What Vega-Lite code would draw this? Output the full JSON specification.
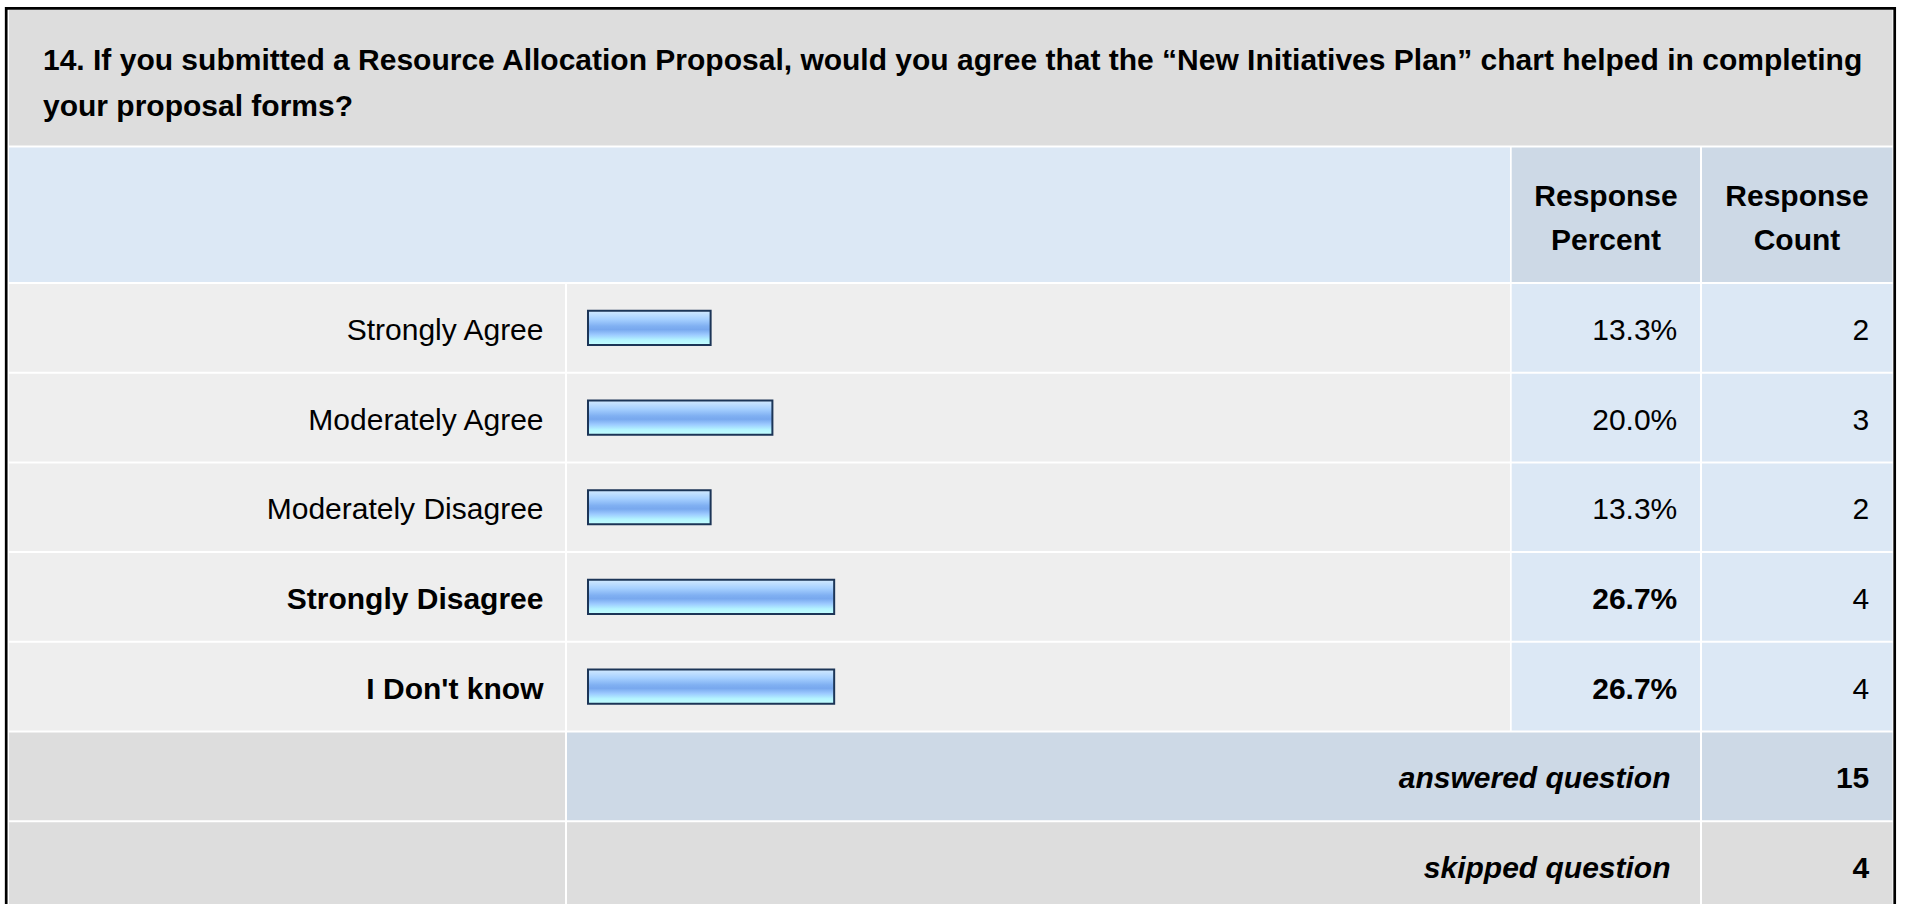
{
  "$schema": "https://vega.github.io/schema/vega-lite/v6.json",
  "width": 1907,
  "height": 904,
  "padding": 0,
  "autosize": {"type": "none"},
  "background": "#ffffff",
  "config": {"view": {"stroke": null}, "font": "Liberation Sans", "text": {"fontSize": 30, "color": "#000000"}},
  "datasets": {
    "responses": [
      {"answer": "Strongly Agree", "percent": 0.133, "count": 2, "kind": "answer"},
      {"answer": "Moderately Agree", "percent": 0.2, "count": 3, "kind": "answer"},
      {"answer": "Moderately Disagree", "percent": 0.133, "count": 2, "kind": "answer"},
      {"answer": "Strongly Disagree", "percent": 0.267, "count": 4, "kind": "answer"},
      {"answer": "I Don't know", "percent": 0.267, "count": 4, "kind": "answer"},
      {"answer": "answered question", "count": 15, "kind": "answered"},
      {"answer": "skipped question", "count": 4, "kind": "skipped"}
    ]
  },
  "layer": [
    {
      "data": {"values": [{}]},
      "layer": [
        {
          "mark": {"type": "rect", "fill": "#dddddd"},
          "encoding": {
            "x": {"datum": -0.62798, "type": "quantitative", "scale": {"domain": [-0.637744, 1.430586], "nice": false, "zero": false}, "axis": null},
            "x2": {"datum": 1.41486},
            "y": {"datum": -3.05463, "type": "quantitative", "scale": {"domain": [-3.16611, 6.91193], "nice": false, "zero": false, "reverse": true}, "axis": null},
            "y2": {"datum": -1.54292}
          }
        },
        {
          "mark": {"type": "rect", "fill": "#dce8f5"},
          "encoding": {
            "x": {"datum": -0.62798, "type": "quantitative", "scale": {"domain": [-0.637744, 1.430586], "nice": false, "zero": false}, "axis": null},
            "x2": {"datum": 1.0},
            "y": {"datum": -1.52062, "type": "quantitative", "scale": {"domain": [-3.16611, 6.91193], "nice": false, "zero": false, "reverse": true}, "axis": null},
            "y2": {"datum": -0.0223}
          }
        },
        {
          "mark": {"type": "rect", "fill": "#cdd9e6"},
          "encoding": {
            "x": {"datum": 1.001844, "type": "quantitative", "scale": {"domain": [-0.637744, 1.430586], "nice": false, "zero": false}, "axis": null},
            "x2": {"datum": 1.206074},
            "y": {"datum": -1.52062, "type": "quantitative", "scale": {"domain": [-3.16611, 6.91193], "nice": false, "zero": false, "reverse": true}, "axis": null},
            "y2": {"datum": -0.0223}
          }
        },
        {
          "mark": {"type": "rect", "fill": "#cdd9e6"},
          "encoding": {
            "x": {"datum": 1.208243, "type": "quantitative", "scale": {"domain": [-0.637744, 1.430586], "nice": false, "zero": false}, "axis": null},
            "x2": {"datum": 1.41486},
            "y": {"datum": -1.52062, "type": "quantitative", "scale": {"domain": [-3.16611, 6.91193], "nice": false, "zero": false, "reverse": true}, "axis": null},
            "y2": {"datum": -0.0223}
          }
        },
        {
          "mark": {"type": "text", "align": "left", "baseline": "alphabetic", "fontWeight": "bold", "fontSize": 30, "lineHeight": 46},
          "encoding": {
            "x": {"datum": -0.591106, "type": "quantitative", "scale": {"domain": [-0.637744, 1.430586], "nice": false, "zero": false}, "axis": null},
            "y": {"datum": -2.38573, "type": "quantitative", "scale": {"domain": [-3.16611, 6.91193], "nice": false, "zero": false, "reverse": true}, "axis": null},
            "text": {"value": ["14. If you submitted a Resource Allocation Proposal, would you agree that the \u201cNew Initiatives Plan\u201d chart helped in completing", "your proposal forms?"]}
          }
        },
        {
          "mark": {"type": "text", "align": "center", "baseline": "alphabetic", "fontWeight": "bold", "fontSize": 30, "lineHeight": 44},
          "encoding": {
            "x": {"datum": 1.104121, "type": "quantitative", "scale": {"domain": [-0.637744, 1.430586], "nice": false, "zero": false}, "axis": null},
            "y": {"datum": -0.869565, "type": "quantitative", "scale": {"domain": [-3.16611, 6.91193], "nice": false, "zero": false, "reverse": true}, "axis": null},
            "text": {"value": ["Response", "Percent"]}
          }
        },
        {
          "mark": {"type": "text", "align": "center", "baseline": "alphabetic", "fontWeight": "bold", "fontSize": 30, "lineHeight": 44},
          "encoding": {
            "x": {"datum": 1.31128, "type": "quantitative", "scale": {"domain": [-0.637744, 1.430586], "nice": false, "zero": false}, "axis": null},
            "y": {"datum": -0.869565, "type": "quantitative", "scale": {"domain": [-3.16611, 6.91193], "nice": false, "zero": false, "reverse": true}, "axis": null},
            "text": {"value": ["Response", "Count"]}
          }
        },
        {
          "mark": {"type": "rect", "fill": "#ffffff", "fillOpacity": 0, "stroke": "#000000", "strokeWidth": 2.7},
          "encoding": {
            "x": {"datum": -0.63102, "type": "quantitative", "scale": {"domain": [-0.637744, 1.430586], "nice": false, "zero": false}, "axis": null},
            "x2": {"datum": 1.41725},
            "y": {"datum": -3.07358, "type": "quantitative", "scale": {"domain": [-3.16611, 6.91193], "nice": false, "zero": false, "reverse": true}, "axis": null},
            "y2": {"datum": 7.0}
          }
        }
      ]
    },
    {
      "data": {"name": "responses"},
      "encoding": {
        "y": {"field": "answer", "type": "nominal", "sort": null, "axis": null,
              "scale": {"domain": ["Strongly Agree", "Moderately Agree", "Moderately Disagree", "Strongly Disagree", "I Don't know", "answered question", "skipped question"], "range": [284, 909.9], "paddingInner": 0.0223, "paddingOuter": 0}}
      },
      "layer": [
        {
          "mark": {"type": "rect"},
          "encoding": {
            "x": {"datum": -0.62798, "type": "quantitative", "scale": {"domain": [-0.637744, 1.430586], "nice": false, "zero": false}, "axis": null},
            "x2": {"datum": -0.024946},
            "fill": {"condition": {"test": "datum.kind === 'answer'", "value": "#eeeeee"}, "value": "#dddddd"}
          }
        },
        {
          "transform": [{"filter": "datum.kind === 'answer'"}],
          "mark": {"type": "rect", "fill": "#eeeeee"},
          "encoding": {
            "x": {"datum": -0.022777, "type": "quantitative", "scale": {"domain": [-0.637744, 1.430586], "nice": false, "zero": false}, "axis": null},
            "x2": {"datum": 1.0}
          }
        },
        {
          "transform": [{"filter": "datum.kind !== 'answer'"}],
          "mark": {"type": "rect"},
          "encoding": {
            "x": {"datum": -0.022777, "type": "quantitative", "scale": {"domain": [-0.637744, 1.430586], "nice": false, "zero": false}, "axis": null},
            "x2": {"datum": 1.206074},
            "fill": {"condition": {"test": "datum.kind === 'answered'", "value": "#cdd9e6"}, "value": "#dddddd"}
          }
        },
        {
          "transform": [{"filter": "datum.kind === 'answer'"}],
          "mark": {"type": "rect", "fill": "#dce8f5"},
          "encoding": {
            "x": {"datum": 1.001844, "type": "quantitative", "scale": {"domain": [-0.637744, 1.430586], "nice": false, "zero": false}, "axis": null},
            "x2": {"datum": 1.206074}
          }
        },
        {
          "mark": {"type": "rect"},
          "encoding": {
            "x": {"datum": 1.208243, "type": "quantitative", "scale": {"domain": [-0.637744, 1.430586], "nice": false, "zero": false}, "axis": null},
            "x2": {"datum": 1.41486},
            "fill": {"condition": [{"test": "datum.kind === 'answer'", "value": "#dce8f5"}, {"test": "datum.kind === 'answered'", "value": "#cdd9e6"}], "value": "#dddddd"}
          }
        },
        {
          "transform": [{"filter": "datum.kind === 'answer'"}],
          "mark": {"type": "bar", "height": {"band": 0.39}, "stroke": "#1c3557", "strokeWidth": 2,
                   "fill": {"gradient": "linear", "x1": 0, "y1": 0, "x2": 0, "y2": 1,
                            "stops": [{"offset": 0, "color": "#d2eaff"}, {"offset": 0.25, "color": "#a6d0ff"}, {"offset": 0.45, "color": "#80b0f2"}, {"offset": 0.55, "color": "#78a8ee"}, {"offset": 0.7, "color": "#9ccaff"}, {"offset": 0.85, "color": "#b4f4ff"}, {"offset": 1, "color": "#c4ffff"}]}},
          "encoding": {
            "x": {"field": "percent", "type": "quantitative", "scale": {"domain": [-0.637744, 1.430586], "nice": false, "zero": false}, "axis": null},
            "x2": {"datum": 0}
          }
        },
        {
          "transform": [{"filter": "datum.kind === 'answer'"}, {"joinaggregate": [{"op": "max", "field": "percent", "as": "top"}]}, {"filter": "datum.percent < datum.top"}],
          "mark": {"type": "text", "align": "right", "baseline": "middle", "dy": 3, "fontSize": 30},
          "encoding": {
            "x": {"datum": -0.048265, "type": "quantitative", "scale": {"domain": [-0.637744, 1.430586], "nice": false, "zero": false}, "axis": null},
            "text": {"field": "answer"}
          }
        },
        {
          "transform": [{"filter": "datum.kind === 'answer'"}, {"joinaggregate": [{"op": "max", "field": "percent", "as": "top"}]}, {"filter": "datum.percent >= datum.top"}],
          "mark": {"type": "text", "align": "right", "baseline": "middle", "dy": 3, "fontSize": 30, "fontWeight": "bold"},
          "encoding": {
            "x": {"datum": -0.048265, "type": "quantitative", "scale": {"domain": [-0.637744, 1.430586], "nice": false, "zero": false}, "axis": null},
            "text": {"field": "answer"}
          }
        },
        {
          "transform": [{"filter": "datum.kind === 'answer'"}, {"joinaggregate": [{"op": "max", "field": "percent", "as": "top"}]}, {"filter": "datum.percent < datum.top"}],
          "mark": {"type": "text", "align": "right", "baseline": "middle", "dy": 3, "fontSize": 30},
          "encoding": {
            "x": {"datum": 1.181453, "type": "quantitative", "scale": {"domain": [-0.637744, 1.430586], "nice": false, "zero": false}, "axis": null},
            "text": {"field": "percent", "type": "quantitative", "format": ".1%"}
          }
        },
        {
          "transform": [{"filter": "datum.kind === 'answer'"}, {"joinaggregate": [{"op": "max", "field": "percent", "as": "top"}]}, {"filter": "datum.percent >= datum.top"}],
          "mark": {"type": "text", "align": "right", "baseline": "middle", "dy": 3, "fontSize": 30, "fontWeight": "bold"},
          "encoding": {
            "x": {"datum": 1.181453, "type": "quantitative", "scale": {"domain": [-0.637744, 1.430586], "nice": false, "zero": false}, "axis": null},
            "text": {"field": "percent", "type": "quantitative", "format": ".1%"}
          }
        },
        {
          "transform": [{"filter": "datum.kind === 'answer'"}],
          "mark": {"type": "text", "align": "right", "baseline": "middle", "dy": 3, "fontSize": 30},
          "encoding": {
            "x": {"datum": 1.389696, "type": "quantitative", "scale": {"domain": [-0.637744, 1.430586], "nice": false, "zero": false}, "axis": null},
            "text": {"field": "count", "type": "quantitative"}
          }
        },
        {
          "transform": [{"filter": "datum.kind !== 'answer'"}],
          "mark": {"type": "text", "align": "right", "baseline": "middle", "dy": 3, "fontSize": 30, "fontWeight": "bold", "fontStyle": "italic"},
          "encoding": {
            "x": {"datum": 1.174078, "type": "quantitative", "scale": {"domain": [-0.637744, 1.430586], "nice": false, "zero": false}, "axis": null},
            "text": {"field": "answer"}
          }
        },
        {
          "transform": [{"filter": "datum.kind !== 'answer'"}],
          "mark": {"type": "text", "align": "right", "baseline": "middle", "dy": 3, "fontSize": 30, "fontWeight": "bold"},
          "encoding": {
            "x": {"datum": 1.389696, "type": "quantitative", "scale": {"domain": [-0.637744, 1.430586], "nice": false, "zero": false}, "axis": null},
            "text": {"field": "count", "type": "quantitative"}
          }
        }
      ]
    }
  ],
  "resolve": {"scale": {"y": "independent"}}
}
